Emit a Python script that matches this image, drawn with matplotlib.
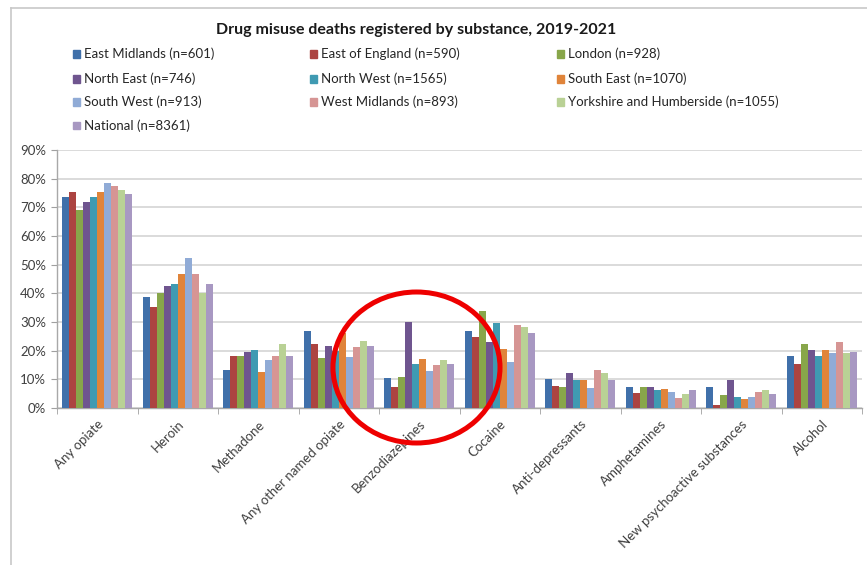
import matplotlib
matplotlib.use("Agg")
import matplotlib.pyplot as plt
from matplotlib.patches import Ellipse
from matplotlib.lines import Line2D
from matplotlib.ticker import PercentFormatter, MultipleLocator, FixedLocator
import numpy as np

plt.rcParams['font.family'] = ['Lato', 'DejaVu Sans']

substances = ["Any opiate", "Heroin", "Methadone", "Any other named opiate",
              "Benzodiazepines", "Cocaine", "Anti-depressants", "Amphetamines",
              "New psychoactive substances", "Alcohol"]

regions = ["East Midlands (n=601)", "East of England (n=590)", "London (n=928)",
           "North East (n=746)", "North West (n=1565)", "South East (n=1070)",
           "South West (n=913)", "West Midlands (n=893)",
           "Yorkshire and Humberside (n=1055)", "National (n=8361)"]

colors = ['#4070AA', '#AC4441', '#88A64A', '#6F558F', '#3F9AB2', '#E0843A',
          '#90ABD6', '#D69594', '#B9D195', '#A898C2']

# percentage of deaths per region, one list per substance order above
east_midlands = [73.5, 38.7, 13.4, 26.9, 10.3, 26.9, 10.2, 7.3, 7.3, 18.0]
east_of_england = [75.3, 35.4, 18.0, 22.3, 7.3, 24.9, 7.8, 5.2, 1.0, 15.4]
london = [68.9, 40.1, 18.0, 17.3, 10.8, 33.8, 7.5, 7.3, 4.6, 22.3]
north_east = [71.9, 42.6, 19.6, 21.6, 30.0, 23.1, 12.2, 7.5, 9.9, 20.1]
north_west = [73.5, 43.3, 20.1, 20.0, 15.4, 29.6, 9.9, 6.2, 3.8, 18.0]
south_east = [75.3, 46.6, 12.5, 26.0, 17.1, 20.5, 9.9, 6.7, 3.3, 20.1]
south_west = [78.4, 52.3, 16.6, 17.9, 12.8, 16.0, 7.0, 5.6, 3.8, 19.2]
west_midlands = [77.6, 46.8, 18.0, 21.2, 14.9, 28.9, 13.1, 3.5, 5.5, 23.1]
yorkshire = [76.1, 40.1, 22.4, 23.5, 16.8, 28.1, 12.2, 5.0, 6.2, 19.2]
national = [74.6, 43.3, 18.0, 21.7, 15.2, 26.2, 9.9, 6.2, 5.0, 19.7]

series = [east_midlands, east_of_england, london, north_east, north_west,
          south_east, south_west, west_midlands, yorkshire, national]

W, H = 867, 565
fig = plt.figure(figsize=(W / 100, H / 100), dpi=100)
fig.patch.set_facecolor('white')

# chart border (screenshot crop: only top and left visible)
fig.add_artist(Line2D([11 / W, 1], [1 - 8 / H, 1 - 8 / H], transform=fig.transFigure,
                      color='#c8c8c8', lw=1.2))
fig.add_artist(Line2D([11 / W, 11 / W], [0, 1 - 8 / H], transform=fig.transFigure,
                      color='#c8c8c8', lw=1.2))

ax = fig.add_axes([57 / W, 1 - 408 / H, (862 - 57) / W, (408 - 150) / H])

x = np.arange(len(substances))
n = len(series)
group_w = 0.87
bw = group_w / n
for i, (vals, c) in enumerate(zip(series, colors)):
    ax.bar(x - group_w / 2 + bw * (i + 0.5), np.array(vals) / 100, width=bw,
           color=c, zorder=3, label=regions[i])

ax.set_xlim(-0.5, len(substances) - 0.5)
ax.set_ylim(0, 0.9)
ax.yaxis.set_major_locator(MultipleLocator(0.1))
ax.yaxis.set_major_formatter(PercentFormatter(1.0, decimals=0))
ax.grid(axis='y', color='#d4d4d4', lw=1.2, zorder=0)

ax.set_xticks(x)
ax.set_xticklabels(substances, rotation=45, ha='right', rotation_mode='anchor',
                   fontsize=9.5, color='#404040')
ax.tick_params(axis='x', length=0, pad=7)
ax.xaxis.set_minor_locator(FixedLocator(np.arange(-0.5, len(substances), 1)))
ax.tick_params(axis='x', which='minor', length=4, color='#a0a0a0', direction='out')
ax.tick_params(axis='y', length=4, color='#a0a0a0', labelsize=9.5,
               labelcolor='#404040', pad=4)

for side in ['top', 'right']:
    ax.spines[side].set_visible(False)
for side in ['left', 'bottom']:
    ax.spines[side].set_color('#a8a8a8')
    ax.spines[side].set_linewidth(1.0)

fig.text(416 / W, 1 - 30 / H, "Drug misuse deaths registered by substance, 2019-2021",
         ha='center', va='center', fontsize=11.5, fontweight='bold', color='#1a1a1a')

col_x = [76, 313, 560]
row_y = [54, 79, 102, 126]
for i, (h_lab, c) in enumerate(zip(regions, colors)):
    r, cc = divmod(i, 3)
    fig.patches.append(plt.Rectangle(((col_x[cc] - 3.5) / W, 1 - (row_y[r] + 3.5) / H),
                                     7 / W, 7 / H, transform=fig.transFigure,
                                     color=c, figure=fig))
    fig.text((col_x[cc] + 8) / W, 1 - row_y[r] / H, h_lab, ha='left', va='center',
             fontsize=9.5, color='#262626')

# red highlight circle
fig.add_artist(Ellipse((416.5 / W, 1 - 367.5 / H), 167 / W, 151 / H,
                       transform=fig.transFigure, fill=False,
                       edgecolor='#ee0000', lw=3.6, zorder=10))

fig.savefig("out.png", dpi=100)
